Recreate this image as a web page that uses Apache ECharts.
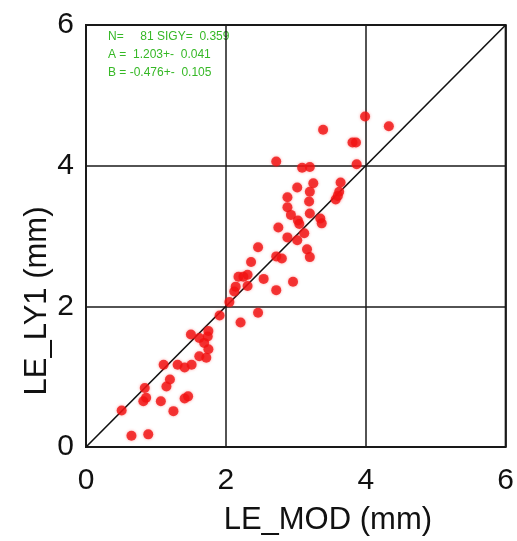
<!DOCTYPE html>
<html>
<head>
<meta charset="utf-8">
<script src="https://cdn.jsdelivr.net/npm/echarts@6/dist/echarts.min.js"></script>
<style>
  html, body { margin: 0; padding: 0; background: #fff; }
  #chart { width: 517px; height: 541px; }
</style>
</head>
<body>
<div id="chart"></div>
<script>
// Modelled vs. observed LE values (mm)
const leMod = [
  0.51, 0.65, 0.89, 0.84, 0.86, 0.82, 1.07, 1.15, 1.20, 1.25,
  1.41, 1.46, 1.11, 1.31, 1.41, 1.51, 1.50, 1.62, 1.75, 1.74,
  1.69, 1.75, 1.62, 1.72, 1.91, 2.05, 2.21, 2.12, 2.14, 2.31,
  2.18, 2.25, 2.31, 2.54, 2.36, 2.46, 2.46, 2.72, 2.96, 2.72,
  2.80, 3.16, 3.20, 2.88, 3.02, 3.12, 2.75, 3.03, 3.05, 3.35,
  3.37, 2.93, 3.20, 2.88, 3.19, 2.88, 3.20, 3.02, 3.25, 3.57,
  3.60, 3.62, 3.64, 3.09, 3.20, 3.87, 2.72, 3.81, 3.86, 3.39,
  3.99, 4.33
];
const leLy1 = [
  0.52, 0.16, 0.18, 0.84, 0.70, 0.65, 0.65, 0.86, 0.96, 0.51,
  0.69, 0.72, 1.17, 1.17, 1.13, 1.17, 1.60, 1.55, 1.65, 1.57,
  1.48, 1.39, 1.29, 1.27, 1.87, 2.06, 1.77, 2.21, 2.28, 2.29,
  2.42, 2.42, 2.45, 2.39, 2.63, 2.84, 1.91, 2.23, 2.35, 2.71,
  2.68, 2.81, 2.70, 2.98, 2.94, 3.04, 3.12, 3.22, 3.17, 3.25,
  3.18, 3.30, 3.32, 3.41, 3.49, 3.55, 3.63, 3.69, 3.75, 3.52,
  3.57, 3.63, 3.76, 3.97, 3.98, 4.02, 4.06, 4.33, 4.33, 4.51,
  4.70, 4.56
];
// 1:1 reference line
const oneToOneX = [0, 6];
const oneToOneY = [0, 6];
// regression summary
const statLines = [
  'N=     81 SIGY=  0.359',
  'A =  1.203+-  0.041',
  'B = -0.476+-  0.105'
];
const axisMin = 0, axisMax = 6, axisStep = 2;

const points = leMod.map((x, i) => [x, leLy1[i]]);
const diag = oneToOneX.map((x, i) => [x, oneToOneY[i]]);

const chart = echarts.init(document.getElementById('chart'));
const font = 'Liberation Sans, Arial, Helvetica, sans-serif';

const axisCommon = {
  type: 'value',
  min: axisMin,
  max: axisMax,
  interval: axisStep,
  nameLocation: 'middle',
  nameMoveOverlap: false,
  axisLine: { show: false },
  axisTick: { show: false },
  axisLabel: { fontFamily: font, fontSize: 30, color: '#111' },
  splitLine: { show: true, lineStyle: { color: '#1a1a1a', width: 1.5 } }
};

chart.setOption({
  animation: false,
  backgroundColor: '#fff',
  grid: {
    left: 86, right: 9, top: 25, bottom: 93,
    show: true, borderColor: '#1a1a1a', borderWidth: 2, backgroundColor: 'transparent'
  },
  xAxis: Object.assign({}, axisCommon, {
    name: 'LE_MOD (mm)',
    nameGap: 58,
    // title sits right of the axis centre
    nameTextStyle: { fontFamily: font, fontSize: 31, color: '#111', padding: [0, 0, 0, 64] },
    axisLabel: Object.assign({}, axisCommon.axisLabel, { margin: 19 })
  }),
  yAxis: Object.assign({}, axisCommon, {
    name: 'LE_LY1 (mm)',
    nameGap: 33,
    // title sits below the axis centre
    nameTextStyle: { fontFamily: font, fontSize: 31, color: '#111', padding: [0, 130, 0, 0] },
    axisLabel: Object.assign({}, axisCommon.axisLabel, { margin: 12 })
  }),
  graphic: statLines.map((t, i) => ({
    type: 'text',
    left: 108,
    top: 31 + i * 18,
    style: { text: t, fontFamily: font, fontSize: 12, fill: '#36b826' }
  })),
  series: [
    {
      type: 'line',
      data: diag,
      symbol: 'none',
      lineStyle: { color: '#111', width: 1.6 },
      z: 2
    },
    {
      type: 'scatter',
      data: points,
      symbol: 'circle',
      symbolSize: 10,
      itemStyle: { color: '#f01010', shadowBlur: 3, shadowColor: 'rgba(255,40,40,0.5)' },
      z: 3
    }
  ]
});
</script>
</body>
</html>
